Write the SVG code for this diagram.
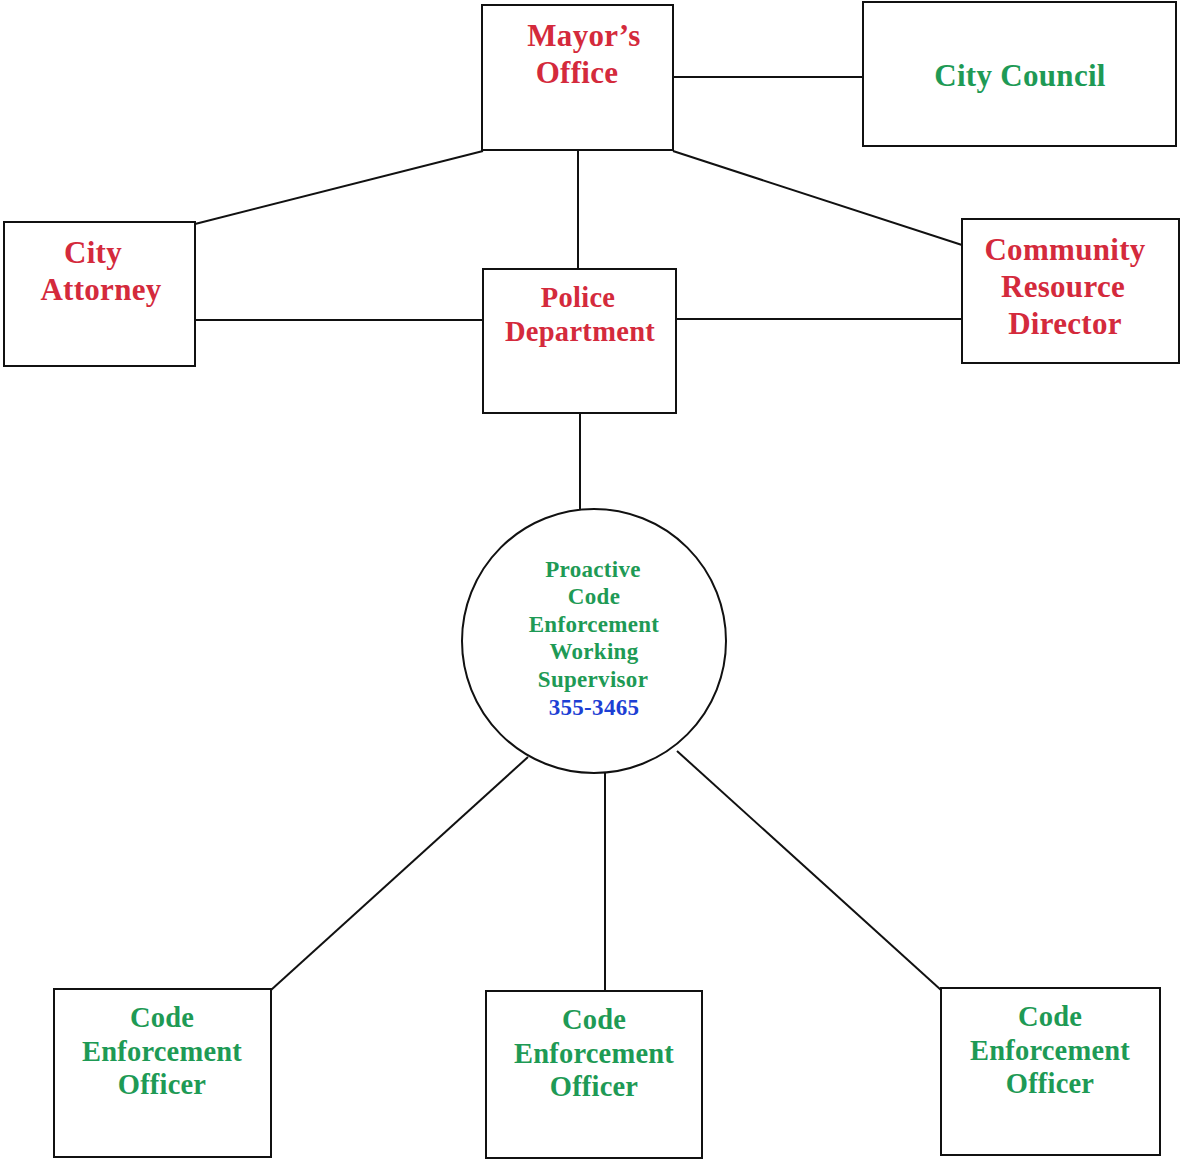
<svg xmlns="http://www.w3.org/2000/svg" width="1180" height="1160" viewBox="0 0 1180 1160">
<style>
.box{fill:#fff;stroke:#111;stroke-width:2}
.ln{stroke:#111;stroke-width:2;fill:none}
text{font-family:"Liberation Serif","Times New Roman",serif;font-weight:bold;text-anchor:middle}
.red{fill:#d42a3c}
.grn{fill:#1e9a55}
.blu{fill:#1d3fd4}
.l{font-size:31px;letter-spacing:0.3px}
.m{font-size:28.5px;letter-spacing:0.3px}
.s{font-size:23px;letter-spacing:0.3px}
.c{font-size:28.5px;letter-spacing:0.2px}
</style>
<rect width="1180" height="1160" fill="#fff"/>
<g id="connectors">
<line class="ln" x1="673" y1="77" x2="863" y2="77"/>
<line class="ln" x1="483" y1="151" x2="195" y2="224"/>
<line class="ln" x1="578" y1="150" x2="578" y2="269"/>
<line class="ln" x1="673" y1="151" x2="962" y2="245"/>
<line class="ln" x1="195" y1="320" x2="483" y2="320"/>
<line class="ln" x1="676" y1="319" x2="962" y2="319"/>
<line class="ln" x1="580" y1="413" x2="580" y2="509"/>
<line class="ln" x1="528" y1="757" x2="271" y2="990"/>
<line class="ln" x1="605" y1="773" x2="605" y2="991"/>
<line class="ln" x1="677" y1="751" x2="941" y2="990"/>
</g>
<g id="mayors-office">
<rect class="box" x="482" y="5" width="191" height="145"/>
<text class="red l" x="584" y="46">Mayor’s</text>
<text class="red l" x="577" y="83">Office</text>
</g>
<g id="city-council">
<rect class="box" x="863" y="2" width="313" height="144"/>
<text class="grn l" x="1020" y="86">City Council</text>
</g>
<g id="city-attorney">
<rect class="box" x="4" y="222" width="191" height="144"/>
<text class="red l" x="93" y="263">City</text>
<text class="red l" x="101" y="300">Attorney</text>
</g>
<g id="police-department">
<rect class="box" x="483" y="269" width="193" height="144"/>
<text class="red m" x="578" y="307">Police</text>
<text class="red m" x="580" y="341">Department</text>
</g>
<g id="community-resource-director">
<rect class="box" x="962" y="219" width="217" height="144"/>
<text class="red l" x="1065" y="260">Community</text>
<text class="red l" x="1063" y="297">Resource</text>
<text class="red l" x="1065" y="334">Director</text>
</g>
<g id="supervisor">
<circle class="box" cx="594" cy="641" r="132"/>
<text class="grn s" x="593" y="577">Proactive</text>
<text class="grn s" x="594" y="604">Code</text>
<text class="grn s" x="594" y="632">Enforcement</text>
<text class="grn s" x="594" y="659">Working</text>
<text class="grn s" x="593" y="687">Supervisor</text>
<text class="blu s" x="594" y="715">355-3465</text>
</g>
<g id="ceo-left">
<rect class="box" x="54" y="989" width="217" height="168"/>
<text class="grn c" x="162" y="1027">Code</text>
<text class="grn c" x="162" y="1061">Enforcement</text>
<text class="grn c" x="162" y="1094">Officer</text>
</g>
<g id="ceo-middle">
<rect class="box" x="486" y="991" width="216" height="167"/>
<text class="grn c" x="594" y="1029">Code</text>
<text class="grn c" x="594" y="1063">Enforcement</text>
<text class="grn c" x="594" y="1096">Officer</text>
</g>
<g id="ceo-right">
<rect class="box" x="941" y="988" width="219" height="167"/>
<text class="grn c" x="1050" y="1026">Code</text>
<text class="grn c" x="1050" y="1060">Enforcement</text>
<text class="grn c" x="1050" y="1093">Officer</text>
</g>
</svg>
